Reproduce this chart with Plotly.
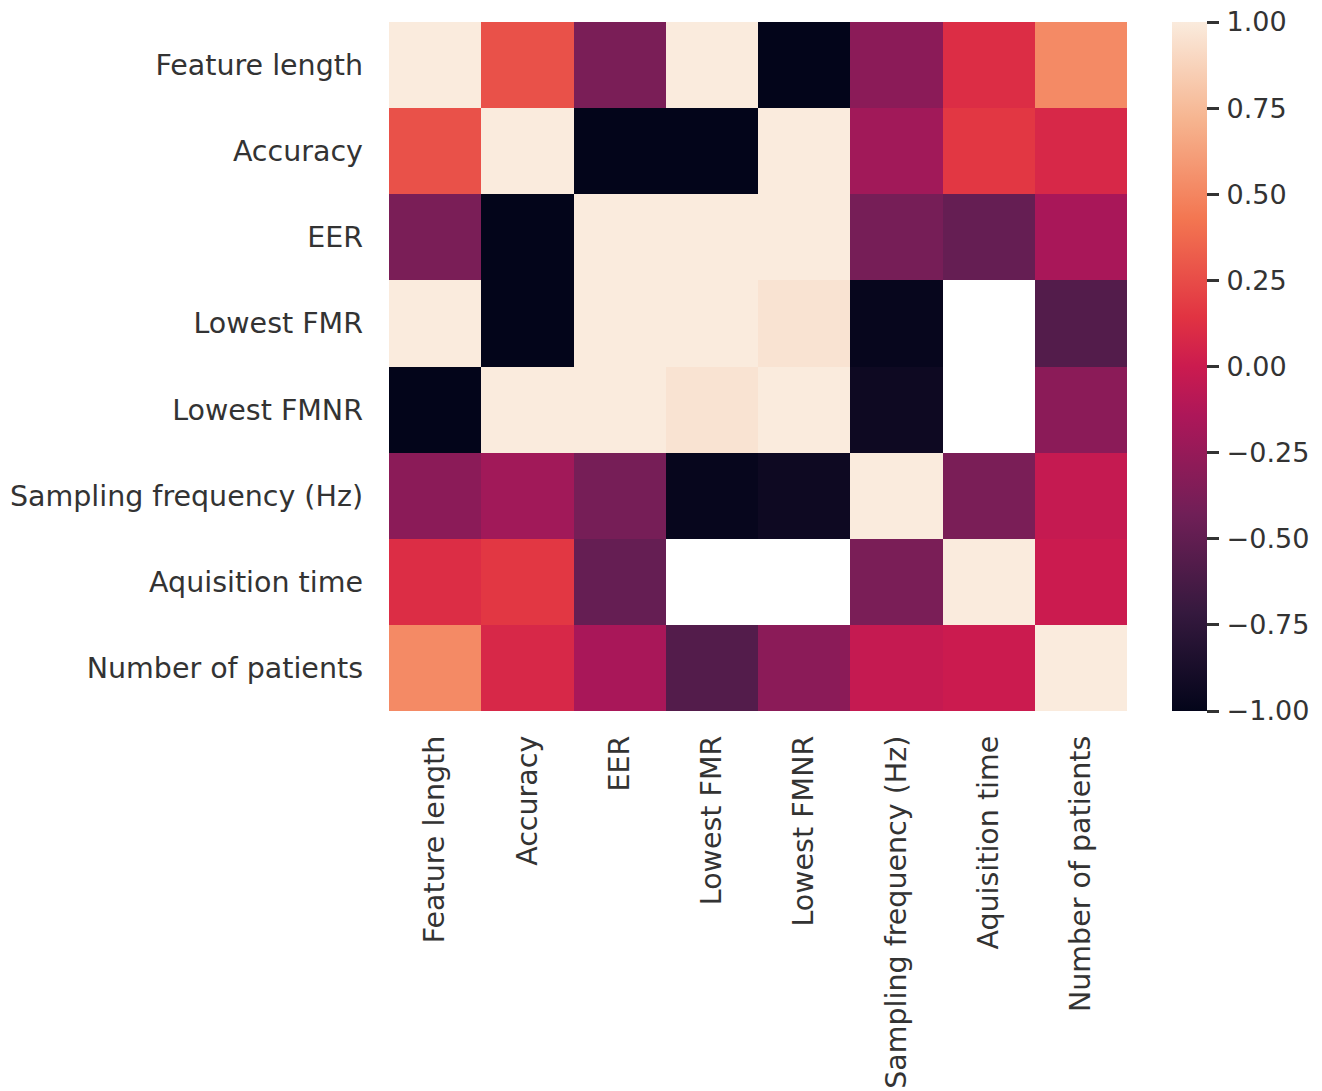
import numpy as np
import plotly.graph_objects as go

labels = ["Feature length", "Accuracy", "EER", "Lowest FMR", "Lowest FMNR",
          "Sampling frequency (Hz)", "Aquisition time", "Number of patients"]

nan = np.nan
row_feature_length = [1.00, 0.27, -0.38, 1.00, -1.00, -0.30, 0.11, 0.52]
row_accuracy       = [0.27, 1.00, -1.00, -1.00, 1.00, -0.20, 0.16, 0.08]
row_eer            = [-0.38, -1.00, 1.00, 1.00, 1.00, -0.40, -0.48, -0.16]
row_lowest_fmr     = [1.00, -1.00, 1.00, 1.00, 0.96, -0.98, nan, -0.57]
row_lowest_fmnr    = [-1.00, 1.00, 1.00, 0.96, 1.00, -0.94, nan, -0.30]
row_sampling       = [-0.30, -0.20, -0.40, -0.98, -0.94, 1.00, -0.38, -0.03]
row_aquisition     = [0.11, 0.16, -0.48, nan, nan, -0.38, 1.00, 0.00]
row_patients       = [0.52, 0.08, -0.16, -0.57, -0.30, -0.03, 0.00, 1.00]

z = [row_feature_length, row_accuracy, row_eer, row_lowest_fmr,
     row_lowest_fmnr, row_sampling, row_aquisition, row_patients]

cbar_ticks = [1.0, 0.75, 0.5, 0.25, 0.0, -0.25, -0.5, -0.75, -1.0]
cbar_text = ["\u200a" + f"{v:.2f}".replace("-", "\u2212") for v in cbar_ticks]

rocket = [
    [0.0, "#03051a"],
    [1/7, "#35193e"],
    [2/7, "#701f57"],
    [3/7, "#ad1759"],
    [0.5, "#cb1b4f"],
    [4/7, "#e13342"],
    [5/7, "#f37651"],
    [6/7, "#f6b48f"],
    [1.0, "#faebdd"],
]

font_color = "#333333"
font = dict(family="DejaVu Sans", size=28.5, color=font_color)
cb_font = dict(family="DejaVu Sans", size=27, color=font_color)

fig = go.Figure(go.Heatmap(
    z=z, x=labels, y=labels,
    zmin=-1, zmax=1,
    colorscale=rocket,
    xgap=0, ygap=0,
    hoverongaps=False,
    colorbar=dict(
        x=1 + (1172 - 1127) / 738, xanchor="left", xpad=0,
        y=0.5, yanchor="middle", ypad=0,
        len=1, lenmode="fraction",
        thickness=35, thicknessmode="pixels",
        outlinewidth=0,
        tickmode="array",
        tickvals=cbar_ticks,
        ticktext=cbar_text,
        ticks="outside", ticklen=12, tickwidth=2.5, tickcolor="#333333",
        tickfont=cb_font,
    ),
))

fig.update_layout(
    width=1322, height=1091,
    margin=dict(l=389, r=195, t=22, b=380),
    paper_bgcolor="white", plot_bgcolor="white",
    font=font,
    xaxis=dict(tickangle=-90, showgrid=False, zeroline=False, ticks="",
               automargin=False,
               ticklabelstandoff=18, tickfont=font, showline=False),
    yaxis=dict(autorange="reversed", showgrid=False, zeroline=False, ticks="",
               automargin=False,
               ticklabelstandoff=25, tickfont=font, showline=False),
)

fig.write_html(
    "out.html",
    config={"displayModeBar": False},
    post_script="document.body.style.margin='0';document.body.style.overflow='hidden';",
)
